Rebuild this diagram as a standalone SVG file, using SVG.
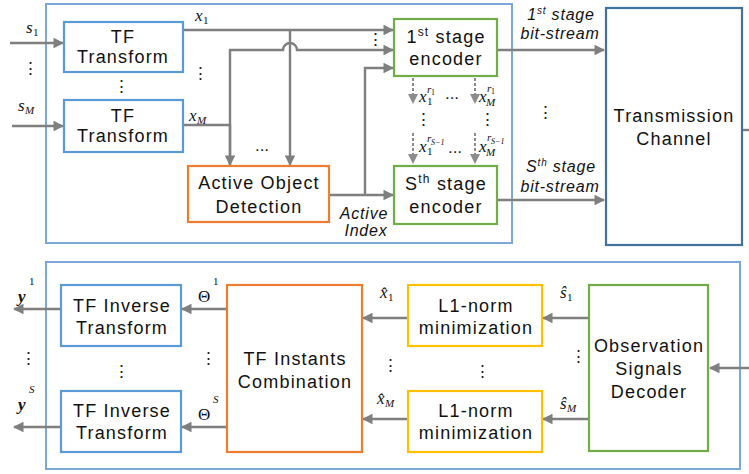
<svg xmlns="http://www.w3.org/2000/svg" width="749" height="474" viewBox="0 0 749 474">
  <defs>
    <marker id="arr" viewBox="0 0 10 10" refX="9" refY="5" markerWidth="4.4" markerHeight="4.4" orient="auto" markerUnits="strokeWidth">
      <path d="M0,0 L10,5 L0,10 z" fill="#7f7f7f"/>
    </marker>
    <marker id="arrd" viewBox="0 0 10 10" refX="9" refY="5" markerWidth="5" markerHeight="5" orient="auto" markerUnits="strokeWidth">
      <path d="M0,0 L10,5 L0,10 z" fill="#8c8c8c"/>
    </marker>
  </defs>
  <style>
    .frame { fill: none; stroke: #7ba7d9; stroke-width: 2; }
    .blue { fill: #fff; stroke: #5b9bd5; stroke-width: 2.2; }
    .green { fill: #fff; stroke: #70ad47; stroke-width: 2.2; }
    .orange { fill: #fff; stroke: #ed7d31; stroke-width: 2.2; }
    .yellow { fill: #fff; stroke: #ffc000; stroke-width: 2.2; }
    .chan { fill: #fff; stroke: #41719c; stroke-width: 2.2; }
    .lbl { font-family: "Liberation Sans", Arial, sans-serif; font-size: 18px; fill: #111; text-anchor: middle; letter-spacing: 1.2px; }
    .ital { font-family: "Liberation Sans", Arial, sans-serif; font-size: 16px; font-style: italic; fill: #111; text-anchor: middle; letter-spacing: 0.8px; }
    .math { font-family: "Liberation Serif", "Times New Roman", serif; font-size: 17px; font-style: italic; fill: #111; }
    .up { font-family: "Liberation Serif", "Times New Roman", serif; font-size: 17px; fill: #111; }
    .sub { font-family: "Liberation Serif", "Times New Roman", serif; font-size: 11px; fill: #111; }
    .subi { font-family: "Liberation Serif", "Times New Roman", serif; font-size: 11px; font-style: italic; fill: #111; }
    .tiny { font-family: "Liberation Serif", "Times New Roman", serif; font-size: 8px; fill: #111; }
    .dots { font-family: "Liberation Sans", Arial, sans-serif; font-size: 17px; fill: #222; text-anchor: middle; }
    .wire { fill: none; stroke: #7f7f7f; stroke-width: 2.4; }
    .dash { fill: none; stroke: #8c8c8c; stroke-width: 2; stroke-dasharray: 3 2; }
  </style>

  <!-- enclosing frames -->
  <rect class="frame" x="46" y="4" width="466" height="239"/>
  <rect class="frame" x="46" y="262" width="694" height="207"/>

  <!-- connectors -->
  <g id="connectors">
    <!-- inputs -->
    <line class="wire" x1="10" y1="43" x2="63" y2="43" marker-end="url(#arr)"/>
    <line class="wire" x1="12" y1="126" x2="63" y2="126" marker-end="url(#arr)"/>
    <!-- x1 to first encoder, tapped down to detection -->
    <line class="wire" x1="183" y1="30" x2="393" y2="30" marker-end="url(#arr)"/>
    <line class="wire" x1="290" y1="30" x2="290" y2="165" marker-end="url(#arr)"/>
    <!-- xM to first encoder (hopping over the x1 tap) and to detection -->
    <line class="wire" x1="183" y1="125" x2="230" y2="125"/>
    <path class="wire" d="M230,165 V50 H283 A7,7 0 0 1 297,50 H393" marker-end="url(#arr)"/>
    <line class="wire" x1="230" y1="124" x2="230" y2="165" marker-end="url(#arr)"/>
    <!-- active index -->
    <line class="wire" x1="330" y1="195" x2="393" y2="195" marker-end="url(#arr)"/>
    <path class="wire" d="M365,195 V68 H393" marker-end="url(#arr)"/>
    <!-- stage chain -->
    <line class="dash" x1="413" y1="78" x2="413" y2="103" marker-end="url(#arrd)"/>
    <line class="dash" x1="475" y1="78" x2="475" y2="103" marker-end="url(#arrd)"/>
    <line class="dash" x1="413" y1="133" x2="413" y2="163" marker-end="url(#arrd)"/>
    <line class="dash" x1="475" y1="133" x2="475" y2="163" marker-end="url(#arrd)"/>
    <!-- bit-streams -->
    <line class="wire" x1="497" y1="50" x2="604" y2="50" marker-end="url(#arr)"/>
    <line class="wire" x1="497" y1="200" x2="604" y2="200" marker-end="url(#arr)"/>
    <line class="wire" x1="742" y1="130" x2="749" y2="130"/>
    <!-- receiver -->
    <line class="wire" x1="749" y1="368" x2="710" y2="368" marker-end="url(#arr)"/>
    <line class="wire" x1="589" y1="318" x2="543" y2="318" marker-end="url(#arr)"/>
    <line class="wire" x1="589" y1="419" x2="543" y2="419" marker-end="url(#arr)"/>
    <line class="wire" x1="408" y1="318" x2="363" y2="318" marker-end="url(#arr)"/>
    <line class="wire" x1="408" y1="419" x2="363" y2="419" marker-end="url(#arr)"/>
    <line class="wire" x1="227" y1="309" x2="182" y2="309" marker-end="url(#arr)"/>
    <line class="wire" x1="227" y1="427" x2="182" y2="427" marker-end="url(#arr)"/>
    <line class="wire" x1="61" y1="309" x2="14" y2="309" marker-end="url(#arr)"/>
    <line class="wire" x1="61" y1="427" x2="14" y2="427" marker-end="url(#arr)"/>
  </g>

  <!-- transmitter nodes -->
  <g id="tf1">
    <rect class="blue" x="64" y="22" width="119" height="50"/>
    <text class="lbl" x="123" y="43">TF</text>
    <text class="lbl" x="123" y="63">Transform</text>
  </g>
  <g id="tfM">
    <rect class="blue" x="64" y="100" width="119" height="52"/>
    <text class="lbl" x="123" y="122">TF</text>
    <text class="lbl" x="123" y="142">Transform</text>
  </g>
  <g id="detect">
    <rect class="orange" x="188" y="166" width="141" height="56"/>
    <text class="lbl" x="259" y="189">Active Object</text>
    <text class="lbl" x="259" y="213">Detection</text>
  </g>
  <g id="enc1">
    <rect class="green" x="394" y="19" width="103" height="57"/>
    <text class="lbl" x="446" y="43">1<tspan font-size="12" dy="-7">st</tspan><tspan dy="7"> stage</tspan></text>
    <text class="lbl" x="446" y="65">encoder</text>
  </g>
  <g id="encS">
    <rect class="green" x="394" y="166" width="103" height="58"/>
    <text class="lbl" x="446" y="190">S<tspan font-size="12" dy="-7">th</tspan><tspan dy="7"> stage</tspan></text>
    <text class="lbl" x="446" y="213">encoder</text>
  </g>
  <g id="channel">
    <rect class="chan" x="606" y="8" width="136" height="237"/>
    <text class="lbl" x="674" y="122">Transmission</text>
    <text class="lbl" x="674" y="145">Channel</text>
  </g>

  <!-- receiver nodes -->
  <g id="decoder">
    <rect class="green" x="589" y="285" width="119" height="166"/>
    <text class="lbl" x="649" y="352">Observation</text>
    <text class="lbl" x="649" y="375">Signals</text>
    <text class="lbl" x="649" y="398">Decoder</text>
  </g>
  <g id="l1a">
    <rect class="yellow" x="408" y="285" width="134" height="61"/>
    <text class="lbl" x="476" y="312">L1-norm</text>
    <text class="lbl" x="476" y="334">minimization</text>
  </g>
  <g id="l1b">
    <rect class="yellow" x="408" y="391" width="134" height="61"/>
    <text class="lbl" x="476" y="417">L1-norm</text>
    <text class="lbl" x="476" y="439">minimization</text>
  </g>
  <g id="combine">
    <rect class="orange" x="227" y="285" width="135" height="167"/>
    <text class="lbl" x="295" y="365">TF Instants</text>
    <text class="lbl" x="295" y="388">Combination</text>
  </g>
  <g id="inv1">
    <rect class="blue" x="61" y="285" width="120" height="61"/>
    <text class="lbl" x="122" y="312">TF Inverse</text>
    <text class="lbl" x="122" y="334">Transform</text>
  </g>
  <g id="invS">
    <rect class="blue" x="61" y="391" width="120" height="61"/>
    <text class="lbl" x="122" y="417">TF Inverse</text>
    <text class="lbl" x="122" y="439">Transform</text>
  </g>

  <!-- signal labels -->
  <g id="labels">
    <text class="math" x="26" y="33">s</text><text class="sub" x="33" y="36">1</text>
    <text class="math" x="18" y="111">s</text><text class="subi" x="25" y="114">M</text>
    <text class="math" x="195" y="21">x</text><text class="sub" x="203" y="24">1</text>
    <text class="math" x="189" y="121">x</text><text class="subi" x="197" y="124">M</text>

    <!-- intermediate stage outputs -->
    <text class="math" x="419" y="102">x</text><text class="sub" x="427" y="105">1</text><text class="subi" x="427" y="93">r</text><text class="tiny" x="431" y="95">1</text>
    <text class="dots" x="452" y="99">...</text>
    <text class="math" x="479" y="102">x</text><text class="subi" x="486" y="106">M</text><text class="subi" x="487" y="92">r</text><text class="tiny" x="491" y="94">1</text>

    <text class="math" x="419" y="152">x</text><text class="sub" x="427" y="155">1</text><text class="subi" x="427" y="142">r</text><text class="tiny" x="431" y="145" font-style="italic">S−1</text>
    <text class="dots" x="455" y="153">...</text>
    <text class="math" x="479" y="152">x</text><text class="subi" x="486" y="156">M</text><text class="subi" x="487" y="141">r</text><text class="tiny" x="491" y="144" font-style="italic">S−1</text>

    <text class="ital" x="364" y="219">Active</text>
    <text class="ital" x="366" y="236">Index</text>

    <text class="ital" x="561" y="20">1<tspan font-size="10" dy="-6">st</tspan><tspan dy="6"> stage</tspan></text>
    <text class="ital" x="560" y="39">bit-stream</text>
    <text class="ital" x="561" y="172">S<tspan font-size="10" dy="-6">th</tspan><tspan dy="6"> stage</tspan></text>
    <text class="ital" x="560" y="192">bit-stream</text>

    <text class="math" x="18" y="302" font-weight="bold">y</text><text class="sub" x="29" y="285">1</text>
    <text class="math" x="18" y="410" font-weight="bold">y</text><text class="subi" x="29" y="393">S</text>
    <text class="up" x="198" y="302">Θ</text><text class="sub" x="213" y="285">1</text>
    <text class="up" x="198" y="420">Θ</text><text class="subi" x="213" y="403">S</text>

    <text class="math" x="380" y="298">x̂</text><text class="sub" x="388" y="301">1</text>
    <text class="math" x="377" y="404">x̂</text><text class="subi" x="385" y="407">M</text>
    <text class="math" x="560" y="298">ŝ</text><text class="sub" x="567" y="301">1</text>
    <text class="math" x="560" y="409">ŝ</text><text class="subi" x="567" y="412">M</text>
  </g>

  <!-- ellipsis marks -->
  <g id="ellipses">
    <text class="dots" x="30" y="74">⋮</text>
    <text class="dots" x="121" y="92">⋮</text>
    <text class="dots" x="200" y="79">⋮</text>
    <text class="dots" x="375" y="45">⋮</text>
    <text class="dots" x="262" y="151">...</text>
    <text class="dots" x="423" y="125">⋮</text>
    <text class="dots" x="487" y="125">⋮</text>
    <text class="dots" x="545" y="118">⋮</text>
    <text class="dots" x="28" y="364">⋮</text>
    <text class="dots" x="121" y="377">⋮</text>
    <text class="dots" x="208" y="364">⋮</text>
    <text class="dots" x="390" y="371">⋮</text>
    <text class="dots" x="482" y="377">⋮</text>
    <text class="dots" x="578" y="362">⋮</text>
  </g>
</svg>
